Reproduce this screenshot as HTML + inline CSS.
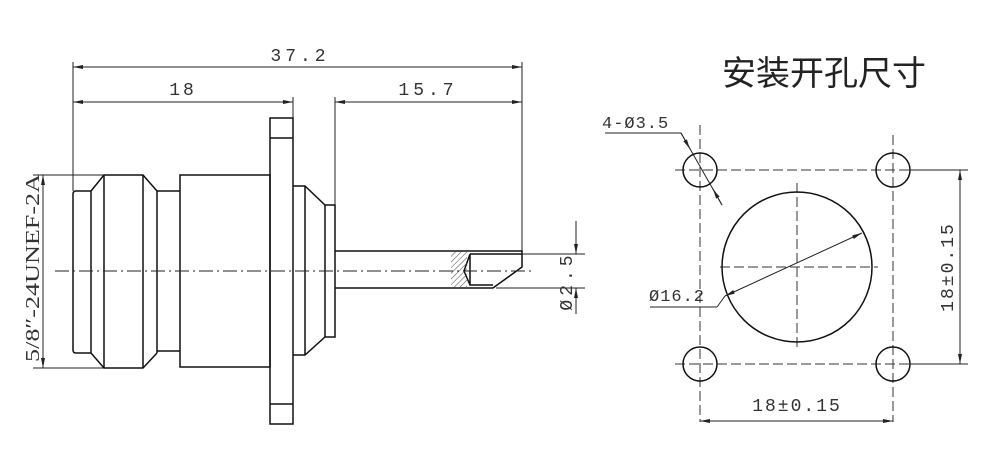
<!DOCTYPE html>
<html><head><meta charset="utf-8"><style>
html,body{margin:0;padding:0;background:#fff;width:1000px;height:455px;overflow:hidden}
svg{display:block}
text{font-family:"Liberation Mono","DejaVu Sans Mono",monospace;fill:#333}
</style></head><body>
<svg width="1000" height="455" viewBox="0 0 1000 455" xmlns="http://www.w3.org/2000/svg">
<defs>
<marker id="a" viewBox="0 0 10 4" refX="10" refY="2" markerWidth="10" markerHeight="4" orient="auto-start-reverse" markerUnits="userSpaceOnUse"><path d="M0,0L10,2L0,4z" fill="#222"/></marker>
<pattern id="h" width="4" height="4" patternUnits="userSpaceOnUse" patternTransform="rotate(45)"><line x1="0" y1="0" x2="0" y2="4" stroke="#444" stroke-width="1"/></pattern>
</defs>
<g stroke="#222" fill="none" stroke-width="1">
<line x1="73" y1="62" x2="73" y2="191"/>
<line x1="522" y1="62" x2="522" y2="254"/>
<line x1="293" y1="97" x2="293" y2="118"/>
<line x1="335" y1="97" x2="335" y2="205"/>
<line x1="73" y1="67" x2="522" y2="67" marker-start="url(#a)" marker-end="url(#a)"/>
<line x1="73" y1="102" x2="293" y2="102" marker-start="url(#a)" marker-end="url(#a)"/>
<line x1="335" y1="102" x2="522" y2="102" marker-start="url(#a)" marker-end="url(#a)"/>
<line x1="33" y1="175" x2="104" y2="175"/>
<line x1="33" y1="368" x2="104" y2="368"/>
<line x1="43" y1="175" x2="43" y2="368" marker-start="url(#a)" marker-end="url(#a)"/>
</g>
<g stroke="#111" fill="none" stroke-width="1.5">
<path d="M91,191 H76 Q73,191 73,194 V350 Q73,353 76,353 H91"/>
<line x1="91" y1="191" x2="91" y2="353"/>
<path d="M91,191 L104,175 H143 L157,191 M91,353 L104,368 H143 L157,353"/>
<line x1="104" y1="175" x2="104" y2="368"/>
<line x1="143" y1="175" x2="143" y2="368"/>
<line x1="157" y1="191" x2="157" y2="353"/>
<path d="M157,191 H180 M157,351 H180"/>
<rect x="180" y="175" width="90" height="192"/>
<rect x="270" y="118" width="23" height="306"/>
<line x1="270" y1="138" x2="293" y2="138"/>
<line x1="270" y1="404" x2="293" y2="404"/>
<path d="M293,186 H305 L325,205 H335 V337 H325 L305,355 H293"/>
<line x1="305" y1="186" x2="305" y2="355"/>
<line x1="325" y1="205" x2="325" y2="337"/>
<path d="M335,251 H522 V267 L493,288 H335"/>
<path d="M470,254 H522 M470,254 V285 H493 M470,254 L464,271 L470,285"/>
</g>
<rect x="451" y="252" width="16" height="35" fill="url(#h)"/>
<g stroke="#222" stroke-width="1" fill="none">
<line x1="55" y1="271" x2="535" y2="271" stroke-dasharray="14,4,2,4"/>
<line x1="522" y1="254" x2="585" y2="254"/>
<line x1="496" y1="288" x2="585" y2="288"/>
<line x1="576" y1="221" x2="576" y2="254" marker-end="url(#a)"/>
<line x1="576" y1="314" x2="576" y2="288" marker-end="url(#a)"/>
</g>
<text x="300" y="61" font-size="18" letter-spacing="4" text-anchor="middle">37.2</text>
<text x="183" y="95" font-size="18" letter-spacing="3" text-anchor="middle">18</text>
<text x="428" y="95" font-size="18" letter-spacing="4" text-anchor="middle">15.7</text>
<text transform="translate(572,281) rotate(-90)" font-size="18" letter-spacing="4" text-anchor="middle">Ø2.5</text>
<text transform="translate(39,268) rotate(-90)" font-size="20" text-anchor="middle" style="font-family:'Liberation Serif',serif" textLength="188" lengthAdjust="spacingAndGlyphs">5/8″-24UNEF-2A</text>

<text x="824" y="85" font-size="34" text-anchor="middle" style="font-family:'Liberation Sans','Noto Sans CJK SC',sans-serif;fill:#222">安装开孔尺寸</text>
<g stroke="#333" stroke-width="1" fill="none" stroke-dasharray="10,4">
<line x1="675" y1="170" x2="910" y2="170"/>
<line x1="675" y1="364" x2="910" y2="364"/>
<line x1="700" y1="125" x2="700" y2="422"/>
<line x1="893" y1="135" x2="893" y2="422"/>
<line x1="720" y1="267" x2="878" y2="267"/>
<line x1="797" y1="183" x2="797" y2="350"/>
</g>
<g stroke="#111" stroke-width="1.5" fill="none">
<circle cx="700" cy="170" r="17"/><circle cx="893" cy="170" r="17"/>
<circle cx="700" cy="364" r="17"/><circle cx="893" cy="364" r="17"/>
<circle cx="797" cy="267" r="75"/>
</g>
<g stroke="#222" stroke-width="1" fill="none">
<line x1="910" y1="170" x2="968" y2="170"/>
<line x1="910" y1="364" x2="968" y2="364"/>
<line x1="960" y1="170" x2="960" y2="364" marker-start="url(#a)" marker-end="url(#a)"/>
<line x1="700" y1="421" x2="893" y2="421" marker-start="url(#a)" marker-end="url(#a)"/>
<path d="M605,133 H681 L722,205"/>
<line x1="681" y1="133" x2="690" y2="149" marker-end="url(#a)"/>
<line x1="722" y1="205" x2="713" y2="189" marker-end="url(#a)"/>
<path d="M650,307 H717"/>
<line x1="725" y1="296" x2="862" y2="233" marker-start="url(#a)" marker-end="url(#a)"/>
<line x1="717" y1="307" x2="725" y2="296"/>
</g>
<text x="602" y="128" font-size="17" letter-spacing="1">4-Ø3.5</text>
<text x="649" y="301" font-size="17" letter-spacing="1">Ø16.2</text>
<text x="797" y="411" font-size="18" letter-spacing="2" text-anchor="middle">18±0.15</text>
<text transform="translate(953,267) rotate(-90)" font-size="18" letter-spacing="2" text-anchor="middle">18±0.15</text>
</svg>
</body></html>
